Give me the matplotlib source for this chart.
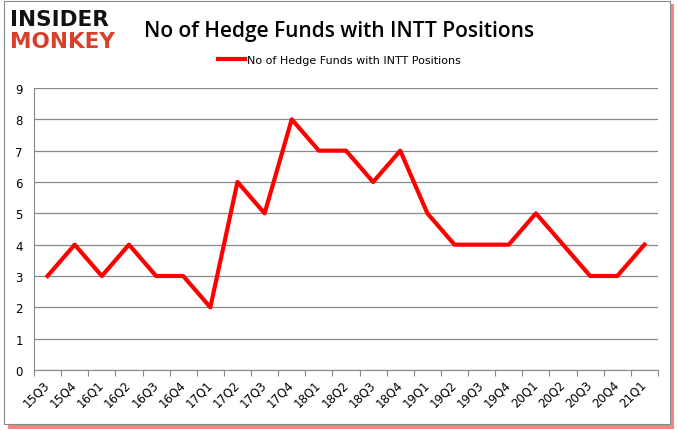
import matplotlib.pyplot as plt
import numpy as np
from matplotlib.patches import Rectangle

quarters = ['15Q3', '15Q4', '16Q1', '16Q2', '16Q3', '16Q4', '17Q1', '17Q2', '17Q3', '17Q4',
            '18Q1', '18Q2', '18Q3', '18Q4', '19Q1', '19Q2', '19Q3', '19Q4', '20Q1', '20Q2',
            '20Q3', '20Q4', '21Q1']
funds = [3, 4, 3, 4, 3, 3, 2, 6, 5, 8, 7, 7, 6, 7, 5, 4, 4, 4, 5, 4, 3, 3, 4]
series_name = 'No of Hedge Funds with INTT Positions'

W, H = 678, 431
fig = plt.figure(figsize=(W / 100, H / 100), dpi=100)

# shadowed frame around the whole chart
fig.patches.append(Rectangle((8 / W, 1 / H), (W - 12) / W, (H - 6) / H, transform=fig.transFigure,
                             facecolor='#ff3030', edgecolor='none', alpha=0.6, zorder=0))
fig.patches.append(Rectangle((4 / W, 6 / H), (W - 12) / W, (H - 8) / H, transform=fig.transFigure,
                             facecolor='white', edgecolor='#888888', linewidth=0.8, zorder=1))

ax = fig.add_axes([34 / W, 1 - 371 / H, (658 - 34) / W, (371 - 89) / H])
ax.set_zorder(3)
ax.set_facecolor('none')
x = np.arange(len(quarters))
ax.plot(x, funds, color='#ff0000', linewidth=3, label=series_name, zorder=3)

ax.set_xlim(-0.5, len(quarters) - 0.5)
ax.set_ylim(0, 9)
ax.set_yticks(range(10))
ax.yaxis.grid(True, color='#888888', linewidth=0.9)
ax.set_axisbelow(True)
ax.set_xticks(np.arange(-0.5, len(quarters)), minor=False)
ax.set_xticklabels([])
ax.set_xticks(x, minor=True)
ax.set_xticklabels(quarters, minor=True, rotation=45, fontsize=8.5, fontfamily='DejaVu Sans',
                   ha='right', va='center', rotation_mode='anchor')
ax.tick_params(axis='x', which='minor', length=0, pad=9)
ax.tick_params(axis='x', which='major', length=4, color='#888888')
ax.tick_params(axis='y', length=0, labelsize=8.5, pad=8)
for s in ['top', 'right']:
    ax.spines[s].set_visible(False)
for s in ['left', 'bottom']:
    ax.spines[s].set_color('#888888')

fig.text(0.5, 1 - 32 / H, 'No of Hedge Funds with INTT Positions', fontsize=15,
         fontfamily='Open Sans', ha='center', va='center', fontweight='semibold', zorder=5)
leg = fig.legend(loc='center', bbox_to_anchor=(0.5, 1 - 61 / H), frameon=False, fontsize=8,
                 handlelength=2.5, handletextpad=0.1)
leg.set_zorder(5)

# logo
fig.text(10 / W, 1 - 20 / H, 'INSIDER', fontsize=15.5, fontweight='black', color='#111111',
         ha='left', va='center', fontfamily='DejaVu Sans', zorder=5)
fig.text(10 / W, 1 - 42 / H, 'MONKEY', fontsize=15.5, fontweight='black', color='#d9402b',
         ha='left', va='center', fontfamily='DejaVu Sans', zorder=5)

fig.savefig('out.png', dpi=100)
